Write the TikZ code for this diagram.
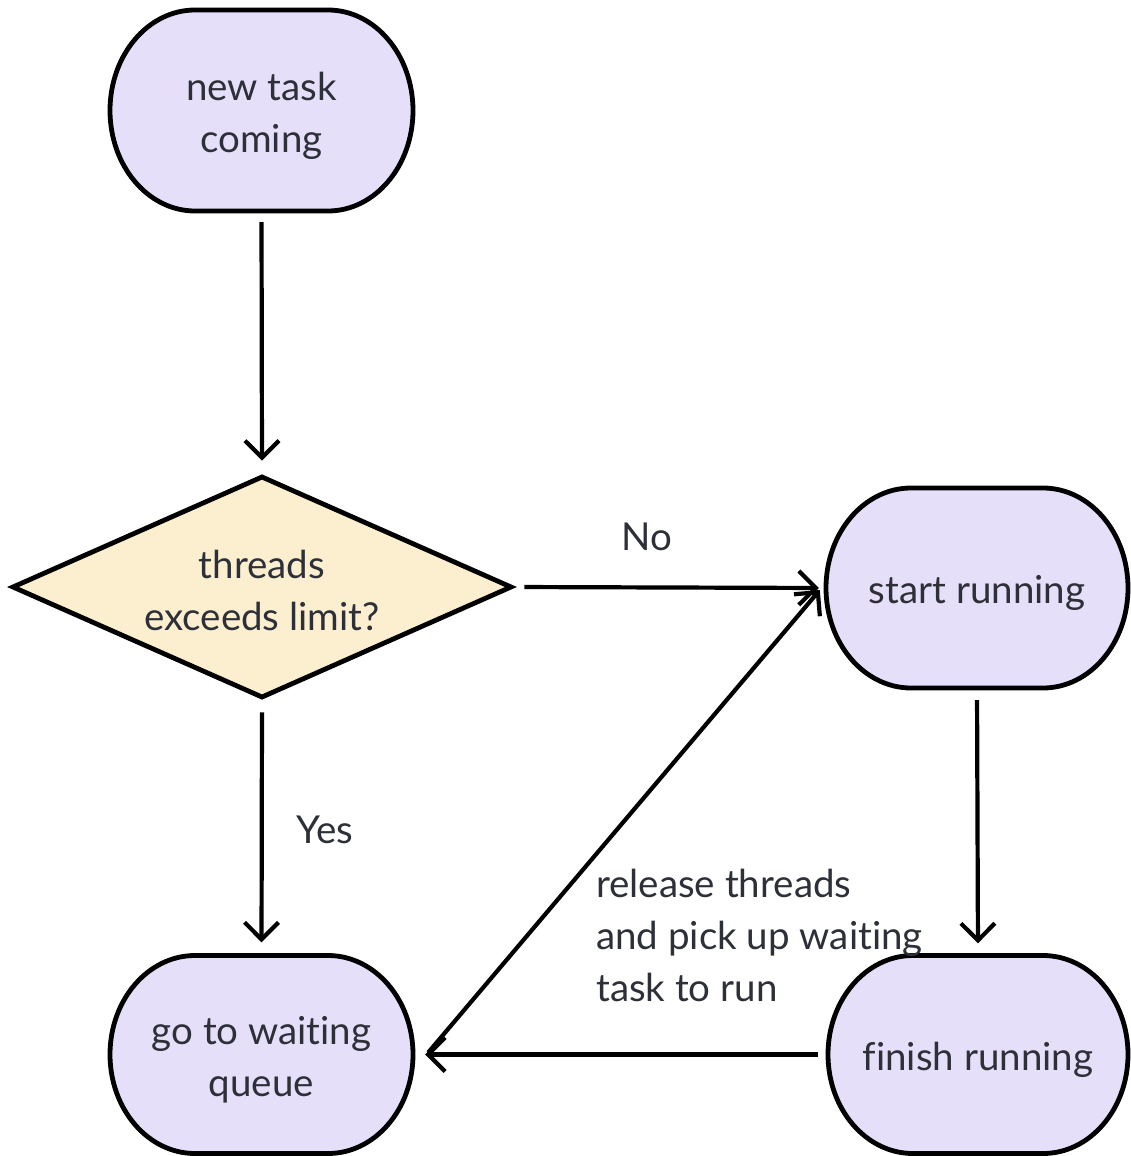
\documentclass[tikz,border=0pt]{standalone}
\usepackage{fontspec}
\setmainfont{Lato}[Ligatures=NoCommon]
\usetikzlibrary{arrows.meta,shapes.geometric,calc}
\definecolor{lav}{HTML}{E6DFFA}
\definecolor{sand}{HTML}{FCEFD0}
\definecolor{ink}{HTML}{2D3038}
\tikzset{
  termline/.style={draw=black,line width=4.8pt,fill=lav},
  termbox/.style={draw=none,fill=none,inner sep=0pt},
  termtext/.style={draw=none,fill=none,inner sep=0pt,align=center,text=ink,font=\fontsize{38.5}{52}\selectfont},
  decision/.style={diamond,draw=black,line width=4.8pt,fill=sand,aspect=2.25,minimum width=500pt,minimum height=222pt,inner sep=0pt},
  arr/.style={draw=black,line width=4.2pt,-{Straight Barb[length=17pt,width=34pt,line width=4.2pt]}},
  lbl/.style={text=ink,font=\fontsize{38.5}{52}\selectfont,inner sep=0pt}
}
\newcommand\stad[6]{%
  \pgfmathsetmacro\sa{#4/2}\pgfmathsetmacro\sb{#5/2}%
  \draw[termline] (#2-\sa,-#3) arc[start angle=180,end angle=90,x radius=85,y radius=\sb]
    -- (#2+\sa-85,-#3+\sb) arc[start angle=90,end angle=-90,x radius=85,y radius=\sb]
    -- (#2-\sa+85,-#3-\sb) arc[start angle=270,end angle=180,x radius=85,y radius=\sb] -- cycle;
  \node[termbox,minimum width=#4pt,minimum height=#5pt] (#1) at (#2,-#3) {};
  \node[termtext] (#1-t) at ([yshift=-5pt]#1.center) {#6};}
\begin{document}
\begin{tikzpicture}[x=1pt,y=1pt]
\useasboundingbox[fill=white] (0,0) rectangle (1130,-1156);
\stad{n1}{261.5}{110.5}{303}{201}{new task\\coming}
\stad{sr}{977}{588}{302}{200}{start running}
\stad{fr}{978}{1054.5}{300}{198}{finish running}
\stad{q}{261.5}{1054.5}{303}{198}{go to waiting\\queue}
\node[decision] (d) at (262,-587) {};
\node[termtext] (d-t) at ([yshift=-3pt]d.center) {threads\\exceeds limit?};
\draw[arr,shorten <=11pt,shorten >=13pt] (n1.south) -- (d.north);
\draw[arr,shorten <=10pt,shorten >=7pt] (d.east) -- (sr.west);
\draw[arr,shorten <=12pt,shorten >=13pt] (d.south) -- (q.north);
\draw[arr,shorten <=12pt,shorten >=12pt] (sr.south) -- (fr.north);
\draw[arr,shorten <=10pt,shorten >=12pt] (fr.west) -- (q.east);
\draw[arr] ([xshift=15pt,yshift=2pt]q.east) -- ([xshift=-6pt,yshift=-2pt]sr.west);
\node[lbl] (no) at (647,-537) {No};
\node[lbl] (yes) at (325,-830) {Yes};
\node[lbl,anchor=west,align=left] (rel) at (596,-935) {release threads\\and pick up waiting\\task to run};
\end{tikzpicture}
\end{document}
